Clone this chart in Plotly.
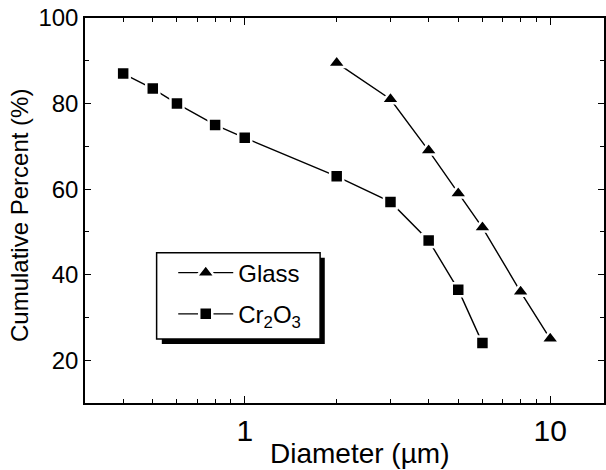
import numpy as np
import plotly.graph_objects as go

# Particle size distributions (cumulative percent vs. diameter in µm)
glass_d = [2, 3, 4, 5, 6, 8, 10]
glass_pct = [89.5, 81, 69, 59, 51, 36, 25]

cr2o3_d = [0.4, 0.5, 0.6, 0.8, 1, 2, 3, 4, 5, 6]
cr2o3_pct = [87, 83.5, 80, 75, 72, 63, 57, 48, 36.5, 24]

x_major = [1, 10]
x_minor = [0.3, 0.4, 0.5, 0.6, 0.7, 0.8, 0.9, 2, 3, 4, 5, 6, 7, 8, 9]
y_major = [20, 40, 60, 80, 100]
y_minor = [30, 50, 70, 90]

FONT = "Liberation Sans, Arial, Helvetica, sans-serif"

fig = go.Figure()

fig.add_trace(go.Scatter(
    x=glass_d, y=glass_pct, mode="lines+markers", name="Glass",
    legendgroup="g",
    line=dict(color="black", width=1.4),
    marker=dict(symbol="triangle-up", size=16, color="black",
                line=dict(color="white", width=2.5)),
))
fig.add_trace(go.Scatter(
    x=cr2o3_d, y=cr2o3_pct, mode="lines+markers",
    name="Cr<sub>2</sub>O<sub>3</sub>",
    legendgroup="c",
    line=dict(color="black", width=1.4),
    marker=dict(symbol="square", size=13, color="black",
                line=dict(color="white", width=2.5)),
))

# legend frame with drop shadow
fig.add_shape(type="rect", xref="paper", yref="paper",
              x0=0.148, x1=0.462, y0=0.153, y1=0.377,
              fillcolor="black", line=dict(width=0), layer="above")
fig.add_shape(type="rect", xref="paper", yref="paper",
              x0=0.138, x1=0.453, y0=0.166, y1=0.390,
              fillcolor="white", line=dict(color="black", width=1.5),
              layer="above")

# axis titles
fig.add_annotation(text="Cumulative Percent (%)", xref="paper", yref="paper",
                   x=-0.125, y=0.486, textangle=-90, showarrow=False,
                   xanchor="center", yanchor="middle",
                   font=dict(size=24, family=FONT, color="black"))
fig.add_annotation(text="Diameter (µm)", xref="paper", yref="paper",
                   x=0.528, y=-0.132, showarrow=False,
                   xanchor="center", yanchor="middle",
                   font=dict(size=28, family=FONT, color="black"))

fig.update_layout(
    width=606, height=470,
    margin=dict(l=85, r=0, t=18, b=67),
    paper_bgcolor="white", plot_bgcolor="white",
    font=dict(family=FONT, color="black"),
    legend=dict(
        x=0.17, y=0.396, xanchor="left", yanchor="top",
        bgcolor="rgba(0,0,0,0)", borderwidth=0,
        font=dict(size=24, family=FONT),
        itemwidth=55, tracegroupgap=7,
    ),
    xaxis=dict(
        type="log", range=[np.log10(0.3), np.log10(15)],
        tickvals=x_major, ticktext=["1", "10"],
        ticks="inside", ticklen=7, tickwidth=1.2, tickcolor="black",
        minor=dict(tickvals=x_minor, ticks="inside", ticklen=4,
                   tickwidth=1, tickcolor="black"),
        showline=True, linecolor="black", linewidth=1.5, mirror="ticks",
        showgrid=False, zeroline=False,
        tickfont=dict(size=30, family=FONT),
    ),
    yaxis=dict(
        range=[10, 100],
        tickvals=y_major,
        ticks="inside", ticklen=6, tickwidth=1.2, tickcolor="black",
        minor=dict(tickvals=y_minor, ticks="inside", ticklen=4,
                   tickwidth=1, tickcolor="black"),
        showline=True, linecolor="black", linewidth=1.5, mirror="ticks",
        showgrid=False, zeroline=False,
        tickfont=dict(size=24, family=FONT),
    ),
)

fig.write_html("out.html")
